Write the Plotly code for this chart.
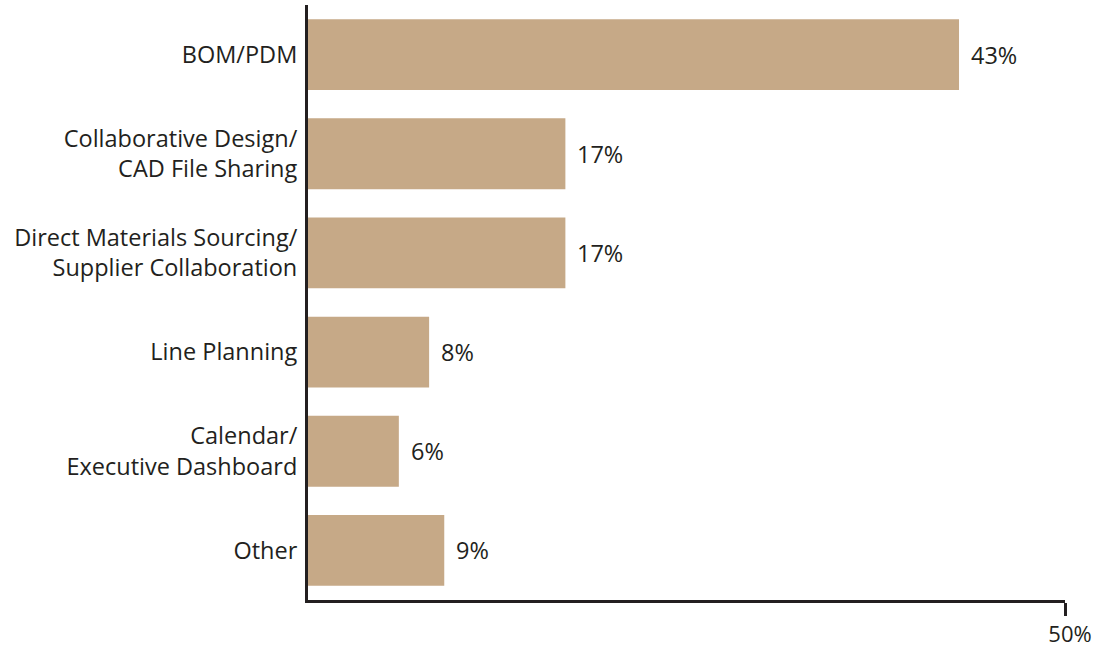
import plotly.graph_objects as go

categories = [
    "BOM/PDM",
    "Collaborative Design/<br>CAD File Sharing",
    "Direct Materials Sourcing/<br>Supplier Collaboration",
    "Line Planning",
    "Calendar/<br>Executive Dashboard",
    "Other",
]
values = [43, 17, 17, 8, 6, 9]
x_tick_vals = [50]
x_tick_text = ["50%"]

BAR_COLOR = "#C6A987"
INK = "#231F20"
FONT = "Open Sans"

fig = go.Figure(
    go.Bar(
        x=values,
        y=categories,
        orientation="h",
        marker=dict(color=BAR_COLOR, line=dict(width=0)),
        hoverinfo="skip",
    )
)

# value labels just past the end of each bar
for cat, v in zip(categories, values):
    fig.add_annotation(
        x=v, y=cat, text=f"{v}%", showarrow=False,
        xanchor="left", yanchor="middle", xshift=10,
        font=dict(family=FONT, size=23.5, color=INK),
    )

fig.update_layout(
    width=1099, height=648,
    margin=dict(l=308, r=34, t=5, b=48),
    paper_bgcolor="white", plot_bgcolor="white",
    bargap=0.285,
    showlegend=False,
    font=dict(family=FONT, size=23.5, color=INK),
)
fig.update_xaxes(
    range=[0, 50], showgrid=False, zeroline=False, automargin=False,
    showline=True, linewidth=3, linecolor=INK,
    tickvals=x_tick_vals, ticktext=x_tick_text,
    ticks="outside", ticklen=13, tickwidth=3, tickcolor=INK,
    ticklabelshift=5, ticklabelstandoff=0,
    tickfont=dict(family=FONT, size=22, color=INK),
)
fig.update_yaxes(
    autorange="reversed", showgrid=False, zeroline=False, automargin=False,
    showline=True, linewidth=3, linecolor=INK,
    ticks="", ticklabelstandoff=3,
    tickfont=dict(family=FONT, size=23.5, color=INK),
)

fig.write_html("out.html")
